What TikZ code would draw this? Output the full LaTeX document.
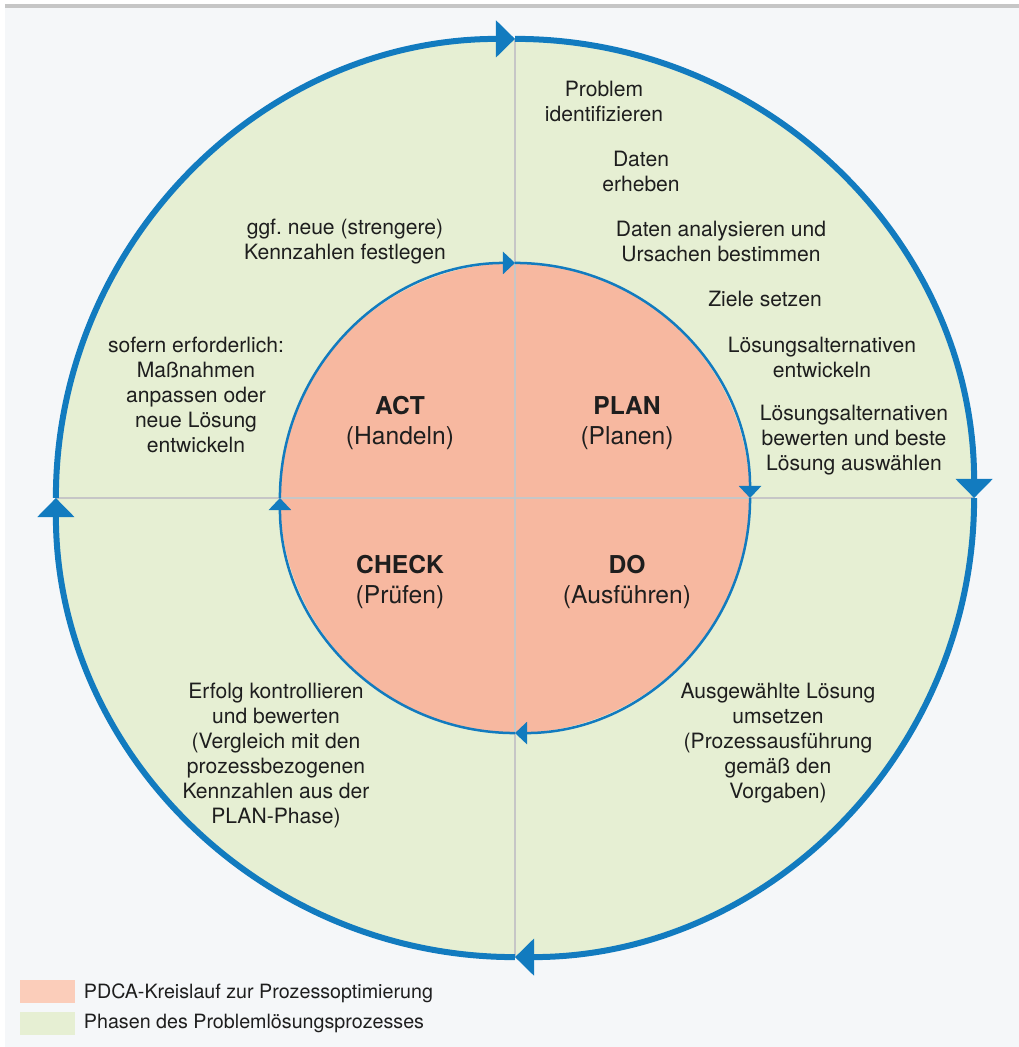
\documentclass[tikz,border=0pt]{standalone}
\usepackage{fontspec}
\setmainfont{TeX Gyre Heros}
\usetikzlibrary{arrows.meta}
\frenchspacing
\definecolor{bgcol}{HTML}{F5F7F9}
\definecolor{rulecol}{HTML}{C6C6C6}
\definecolor{phasegreen}{HTML}{E6EFD3}
\definecolor{pdcared}{HTML}{F7B8A0}
\definecolor{legendred}{HTML}{FBCDBA}
\definecolor{cycleblue}{HTML}{127BBF}
\definecolor{txtcol}{HTML}{1E1E1E}
\tikzset{
  phase/.style={align=center, text=txtcol, font=\fontsize{15}{17.7}\selectfont},
  pdca/.style={align=center, text=txtcol, font=\fontsize{17.5}{21.3}\selectfont},
  legend/.style={anchor=west, text=txtcol, font=\fontsize{14}{17}\selectfont},
  axis/.style={draw=rulecol, line width=1.9pt},
  outer arc/.style={draw=cycleblue, line width=0.15cm, -{Triangle[length=0.475cm,width=0.9cm]}},
  inner arc/.style={draw=cycleblue, line width=0.0625cm, -{Triangle[length=0.3cm,width=0.55cm]}}
}

\begin{document}
\begin{tikzpicture}[x=0.025cm,y=0.025cm]
  \useasboundingbox (-515,-549) rectangle (504,498);
  \fill[bgcol] (-510,-549) rectangle (504,493);
  \fill[rulecol] (-510,489.5) rectangle (504,493.5);

  \coordinate (o) at (0,0);
  \coordinate (top) at (90:11.475cm);
  \coordinate (right) at (0:11.475cm);
  \coordinate (bottom) at (270:11.475cm);
  \coordinate (left) at (180:11.475cm);
  \coordinate (itop) at (90:5.875cm);
  \coordinate (iright) at (0:5.875cm);
  \coordinate (ibottom) at (270:5.875cm);
  \coordinate (ileft) at (180:5.875cm);

  \fill[phasegreen] (o) circle[radius=11.475cm];
  \fill[pdcared] (o) circle[radius=5.875cm];
  \draw[axis] (top) -- (bottom);
  \draw[axis] (left) -- (right);

  \draw[inner arc] (ileft) arc[start angle=180, end angle=90, radius=5.875cm];
  \draw[inner arc] (itop) arc[start angle=90, end angle=0, radius=5.875cm];
  \draw[inner arc] (iright) arc[start angle=0, end angle=-90, radius=5.875cm];
  \draw[inner arc] (ibottom) arc[start angle=270, end angle=180, radius=5.875cm];

  \draw[outer arc] (left) arc[start angle=180, end angle=90, radius=11.475cm];
  \draw[outer arc] (top) arc[start angle=90, end angle=0, radius=11.475cm];
  \draw[outer arc] (right) arc[start angle=0, end angle=-90, radius=11.475cm];
  \draw[outer arc] (bottom) arc[start angle=270, end angle=180, radius=11.475cm];

  \node[pdca] (act) at (-115,75) {\textbf{ACT}\\(Handeln)};
  \node[pdca] (plan) at (112,75) {\textbf{PLAN}\\(Planen)};
  \node[pdca] (check) at (-115,-84) {\textbf{CHECK}\\(Prüfen)};
  \node[pdca] (do) at (112,-84) {\textbf{DO}\\(Ausführen)};

  \node[phase] (p1) at (89,396.5) {Problem\\identifizieren};
  \node[phase] (p2) at (126,326.5) {Daten\\erheben};
  \node[phase] (p3) at (206,256.5) {Daten analysieren und\\Ursachen bestimmen};
  \node[phase] (p4) at (250,199) {Ziele setzen};
  \node[phase] (p5) at (307,140.5) {Lösungsalternativen\\entwickeln};
  \node[phase] (p6) at (339,58) {Lösungsalternativen\\bewerten und beste\\Lösung auswählen};
  \node[phase] (d1) at (263,-245) {Ausgewählte Lösung\\umsetzen\\(Prozessausführung\\gemäß den\\Vorgaben)};
  \node[phase] (c1) at (-239,-257.5) {Erfolg kontrollieren\\und bewerten\\(Vergleich mit den\\prozessbezogenen\\Kennzahlen aus der\\PLAN-Phase)};
  \node[phase] (a1) at (-170,256.5) {ggf. neue (strengere)\\Kennzahlen festlegen};
  \node[phase] (a2) at (-319,103) {sofern erforderlich:\\Maßnahmen\\anpassen oder\\neue Lösung\\entwickeln};

  \fill[legendred] (-495,-482) rectangle (-440,-505);
  \fill[phasegreen] (-495,-514) rectangle (-440,-537);
  \node[legend] (l1) at (-436,-495) {PDCA-Kreislauf zur Prozessoptimierung};
  \node[legend] (l2) at (-436,-525) {Phasen des Problemlösungsprozesses};
\end{tikzpicture}
\end{document}
